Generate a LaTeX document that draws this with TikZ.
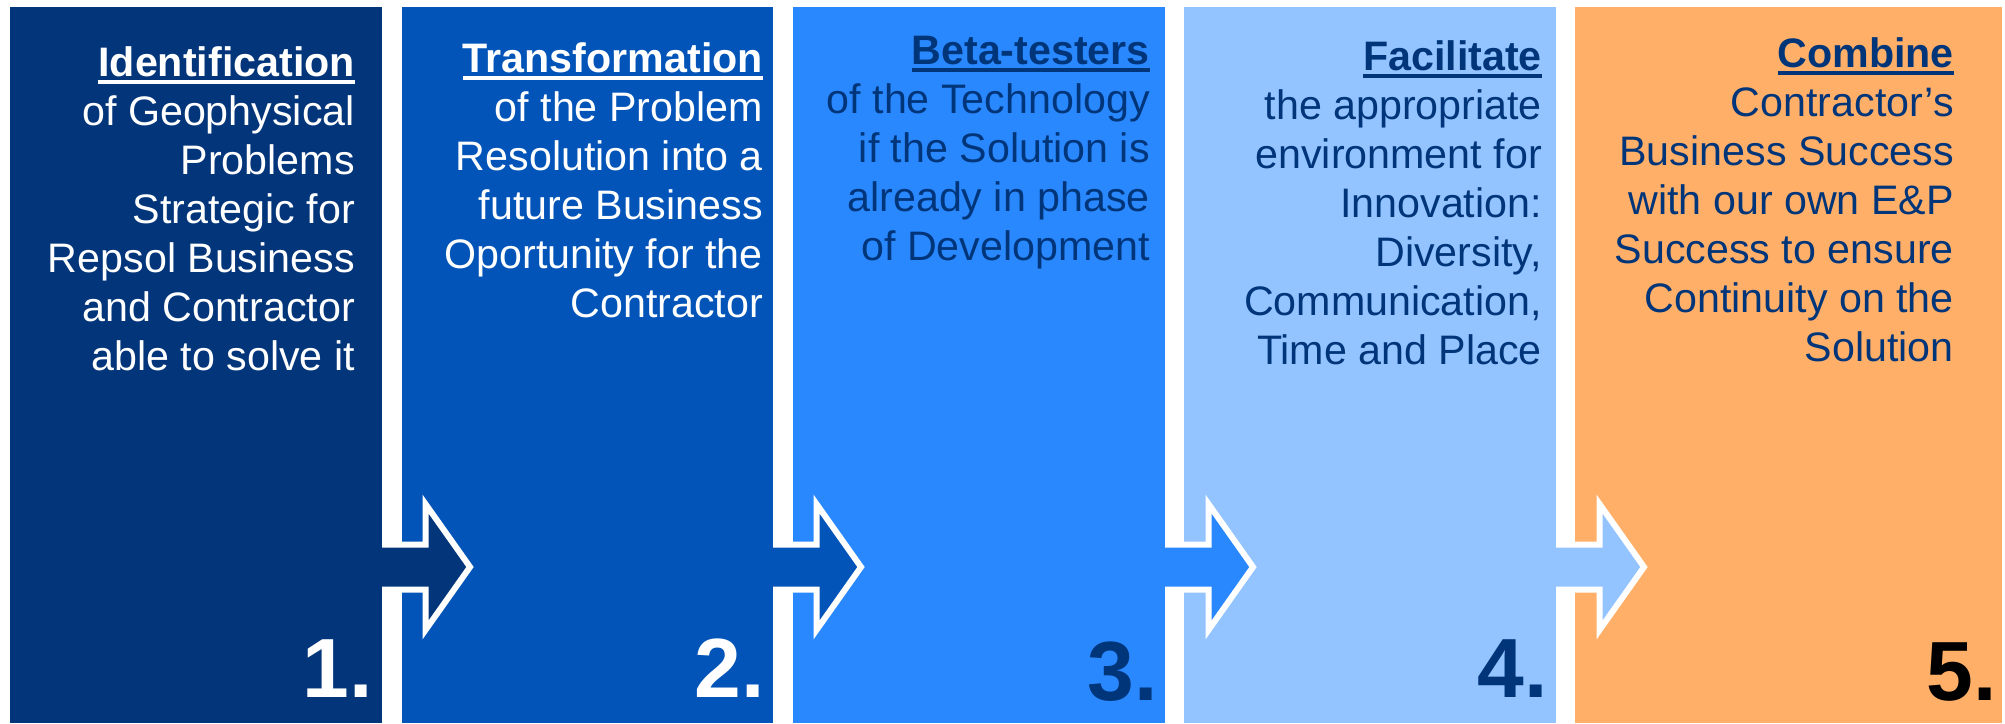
\documentclass[tikz,border=0pt]{standalone}
\usepackage{fontspec}
\setmainfont{Liberation Sans}
\usetikzlibrary{calc}
\definecolor{cA}{HTML}{03357A}
\definecolor{cB}{HTML}{0254B8}
\definecolor{cC}{HTML}{2A88FF}
\definecolor{cD}{HTML}{93C4FF}
\definecolor{cE}{HTML}{FFAF68}
\definecolor{navytxt}{HTML}{00357A}
\newcommand\mkhdr[1]{\leavevmode\setbox0\hbox{\bfseries #1}\rlap{\rule[-8pt]{\wd0}{4.5pt}}\box0}
\newcommand\paneltext[1]{\parbox[t]{420pt}{\fontsize{41.2}{49}\selectfont\raggedleft #1}}
\tikzset{
  panel/.style={rectangle, inner sep=0pt, outer sep=0pt, anchor=north west, minimum height=716pt},
  txt/.style={inner sep=0pt, anchor=base east},
  num/.style={inner sep=0pt, anchor=base east, font=\fontsize{84}{84}\selectfont\bfseries},
  blockarrow/.style={draw=white, line width=6pt, line join=miter}
}
\newcommand\flowarrow[2]{%
  \filldraw[blockarrow, fill=#2] ($(#1.north east)+(0,537.5)$) -- ++(43.5,0) -- ++(0,-40.5)
    -- ++(44.5,63) -- ++(-44.5,63) -- ++(0,-40.5) -- ++(-43.5,0);}
\begin{document}
\begin{tikzpicture}[x=1pt,y=-1pt]
\useasboundingbox[fill=white] (0,0) rectangle (2005,723);
% panels
\node[panel, fill=cA, minimum width=372pt] (p1) at (10,7) {};
\node[panel, fill=cB, minimum width=371pt] (p2) at (402,7) {};
\node[panel, fill=cC, minimum width=372pt] (p3) at (793,7) {};
\node[panel, fill=cD, minimum width=372pt] (p4) at (1184,7) {};
\node[panel, fill=cE, minimum width=427pt] (p5) at (1575,7) {};
% arrows
\flowarrow{p1}{cA}
\flowarrow{p2}{cB}
\flowarrow{p3}{cC}
\flowarrow{p4}{cD}
% texts
\node[txt, text=white] (t1) at ($(p1.north east)+(-27,69)$) {\paneltext{\mkhdr{Identification}\\of Geophysical\\Problems\\Strategic for\\Repsol Business\\and Contractor\\able to solve it}};
\node[txt, text=white] (t2) at ($(p2.north east)+(-10,65)$) {\paneltext{\mkhdr{Transformation}\\of the Problem\\Resolution into a\\future Business\\Oportunity for the\\Contractor}};
\node[txt, text=navytxt] (t3) at ($(p3.north east)+(-15,57)$) {\paneltext{\mkhdr{Beta-testers}\\of the Technology\\if the Solution is\\already in phase\\of Development}};
\node[txt, text=navytxt] (t4) at ($(p4.north east)+(-14,63)$) {\paneltext{\mkhdr{Facilitate}\\the appropriate\\environment for\\Innovation:\\Diversity,\\Communication,\\Time and Place}};
\node[txt, text=navytxt] (t5) at ($(p5.north east)+(-48,60)$) {\paneltext{\mkhdr{Combine}\\Contractor’s\\Business Success\\with our own E\&P\\Success to ensure\\Continuity on the\\Solution}};
% numbers
\node[num, text=white] (n1) at ($(p1.south east)+(-9,-26)$) {1.};
\node[num, text=white] (n2) at ($(p2.south east)+(-8,-26)$) {2.};
\node[num, text=navytxt] (n3) at ($(p3.south east)+(-7,-23)$) {3.};
\node[num, text=navytxt] (n4) at ($(p4.south east)+(-8,-26)$) {4.};
\node[num, text=black] (n5) at ($(p5.south east)+(-5,-23)$) {5.};
\end{tikzpicture}
\end{document}
